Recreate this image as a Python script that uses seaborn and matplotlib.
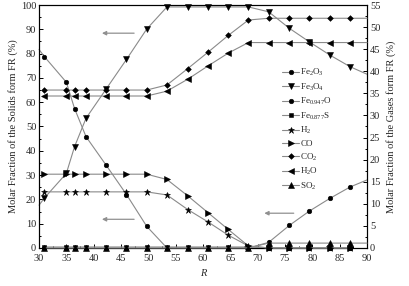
import matplotlib
matplotlib.use("Agg")
import matplotlib.pyplot as plt
import seaborn as sns
import numpy as np
from matplotlib.lines import Line2D
from matplotlib.ticker import MultipleLocator

sns.set_theme(style="ticks")
plt.rcParams['font.family'] = ['Liberation Serif', 'DejaVu Serif']
plt.rcParams['mathtext.fontset'] = 'custom'
plt.rcParams['mathtext.rm'] = 'Liberation Serif'
plt.rcParams['mathtext.it'] = 'Liberation Serif:italic'

# ---- data ----
R = [31, 35, 36.5, 38.6, 42.3, 46, 49.7, 53.4, 57.2, 60.9, 64.6, 68.3, 72, 75.8, 79.4, 83.2, 86.9]

# solids (left axis, %)
fe2o3 = [78.7, 68.2, 57.4, 45.8, 34.0, 22.0, 8.9, 0, 0, 0, 0, 0, 2.3, 9.3, 15.1, 20.4, 25.1]
fe3o4 = [20.6, 30.7, 41.7, 53.4, 65.5, 77.6, 90.1, 99.2, 99.2, 99.2, 99.2, 99.2, 97.2, 90.4, 84.9, 79.4, 74.6]
fe0947o = [0.0] * 17
fe0877s = [0.4] * 12 + [0.0] * 5

# gases (right axis, %)
h2 = [12.7] * 7 + [12.0, 8.7, 5.9, 2.9, 0.45, 0, 0, 0, 0, 0]
co = [16.7] * 7 + [15.5, 11.8, 8.0, 4.2, 0.45, 0, 0, 0, 0, 0]
co2 = [35.75] * 7 + [36.9, 40.6, 44.3, 48.1, 51.6, 52.0, 52.0, 52.0, 52.0, 52.0]
h2o = [34.4] * 7 + [35.5, 38.2, 41.2, 44.1, 46.5, 46.5, 46.5, 46.5, 46.5, 46.5]
so2 = [0.0] * 12 + [1.1, 1.1, 1.1, 1.1, 1.1]

# values where the lines run to the frame edges
fe2o3_start, fe3o4_start = 81.7, 17.6
fe2o3_end, fe3o4_end = 28.0, 71.5

labels = ['Fe$_2$O$_3$', 'Fe$_3$O$_4$', 'Fe$_{0.947}$O', 'Fe$_{0.877}$S', 'H$_2$',
          'CO', 'CO$_2$', 'H$_2$O', 'SO$_2$']

LC = '#8a8a8a'
fig = plt.figure(figsize=(4.09, 2.86), dpi=100)
ax = fig.add_axes([0.0954, 0.133, 0.802, 0.8495])
ax2 = ax.twinx()

def draw(a, x, y, marker, ms, label, lead=None, tail=None):
    xs, ys = list(x), list(y)
    idx = list(range(len(xs)))
    if lead is not None:
        xs = [30.0] + xs
        ys = [lead] + ys
        idx = [i + 1 for i in idx]
    if tail is not None:
        xs = xs + [90.0]
        ys = ys + [tail]
    sns.lineplot(x=xs, y=ys, ax=a, color=LC, lw=0.8, sort=False,
                 marker=marker, markersize=ms, markerfacecolor='black',
                 markeredgecolor='black', markeredgewidth=0.4,
                 markevery=idx, clip_on=False, zorder=3)
    return Line2D([], [], color=LC, lw=0.8, marker=marker, markersize=ms,
                  markerfacecolor='black', markeredgecolor='black',
                  markeredgewidth=0.4, label=label)

handles = []
handles.append(draw(ax, R, fe2o3, 'o', 3.3, labels[0], fe2o3_start, fe2o3_end))
handles.append(draw(ax, R, fe3o4, 'v', 3.8, labels[1], fe3o4_start, fe3o4_end))
handles.append(draw(ax, R, fe0947o, 'o', 3.3, labels[2]))
handles.append(draw(ax, R, fe0877s, 's', 2.8, labels[3]))
handles.append(draw(ax2, R, h2, '*', 4.8, labels[4]))
handles.append(draw(ax2, R, co, '>', 3.8, labels[5]))
handles.append(draw(ax2, R, co2, 'D', 2.9, labels[6], None, co2[-1]))
handles.append(draw(ax2, R, h2o, '<', 3.8, labels[7], None, h2o[-1]))
handles.append(draw(ax2, R, so2, '^', 3.8, labels[8], None, so2[-1]))

ax.set_xlim(30, 90)
ax.set_ylim(0, 100)
ax2.set_ylim(0, 55)

fs = 7.5
ax.xaxis.set_major_locator(MultipleLocator(5))
ax.xaxis.set_minor_locator(MultipleLocator(2.5))
ax.yaxis.set_major_locator(MultipleLocator(10))
ax.yaxis.set_minor_locator(MultipleLocator(5))
ax2.yaxis.set_major_locator(MultipleLocator(5))
ax2.yaxis.set_minor_locator(MultipleLocator(2.5))
for a in (ax, ax2):
    a.tick_params(which='both', direction='in', labelsize=fs, pad=2, color='black', width=0.7)
    a.tick_params(which='major', length=3)
    a.tick_params(which='minor', length=1.5)
    for s in a.spines.values():
        s.set_linewidth(0.8)
        s.set_color('black')
ax.tick_params(axis='x', top=False, pad=4)

ax.set_xlabel('R', fontsize=fs, style='italic', labelpad=5)
ax.set_ylabel('Molar Fraction of the Solids form FR (%)', fontsize=fs, labelpad=2)
ax2.set_ylabel('Molar Fraction of the Gases form FR (%)', fontsize=fs, labelpad=4)

arrow = dict(arrowstyle='-|>', color='#909090', lw=0.9, mutation_scale=6)
ax.annotate('', xy=(41.0, 88.4), xytext=(47.9, 88.4), arrowprops=arrow)
ax.annotate('', xy=(41.0, 11.8), xytext=(47.9, 11.8), arrowprops=arrow)
ax.annotate('', xy=(70.7, 14.3), xytext=(77.1, 14.3), arrowprops=arrow)

leg = ax2.legend(handles=handles, loc='upper left', bbox_to_anchor=(0.742, 0.745),
                 frameon=False, fontsize=6.5, handlelength=1.8, handletextpad=0.2,
                 labelspacing=0.37, borderaxespad=0, borderpad=0)

fig.savefig('out.png', dpi=100)
